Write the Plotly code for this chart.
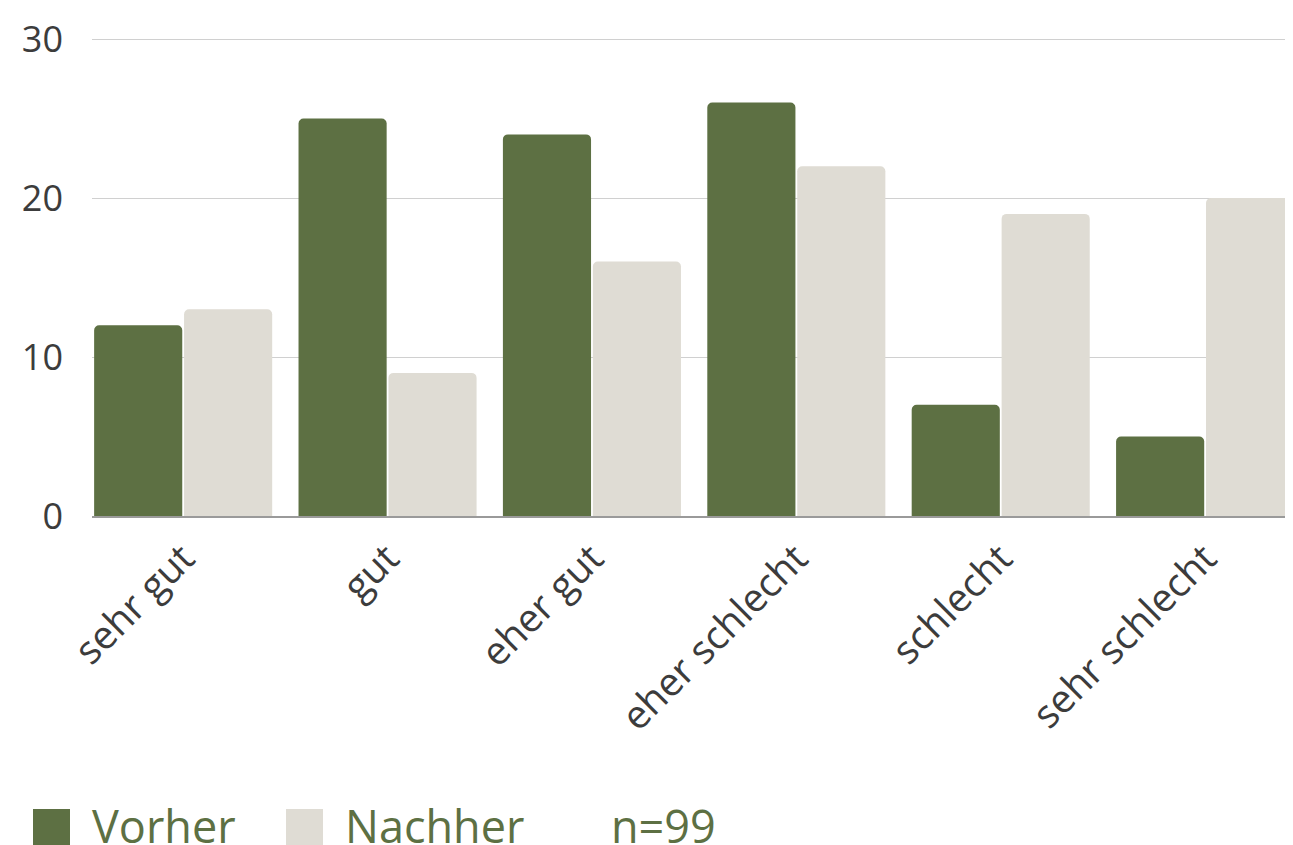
import plotly.graph_objects as go

categories = ["sehr gut", "gut", "eher gut", "eher schlecht", "schlecht", "sehr schlecht"]
vorher = [12, 25, 24, 26, 7, 5]
nachher = [13, 9, 16, 22, 19, 20]
series_names = ["Vorher", "Nachher"]
y_ticks = [0, 10, 20, 30]
note = "n=99"

GREEN = "#5D7043"
BEIGE = "#DFDCD4"
TEXT = "#3C3C3C"
FONT = "Open Sans"

# page renders figure offset by 8px (body margin); compensate
OFF = 8
W, H = 1293 - OFF, 845 - OFF
L, T = 92 - OFF, 37 - OFF
PW, PH = 1201, 479
B = H - T - PH
Y_TOP = 30 * PH / 477  # so that 30 lands 2px below plot top and the gridline shows

fig = go.Figure()
fig.add_trace(go.Bar(x=categories, y=vorher, name=series_names[0], marker_color=GREEN,
                     marker_line_width=0))
fig.add_trace(go.Bar(x=categories, y=nachher, name=series_names[1], marker_color=BEIGE,
                     marker_line_width=0))

fig.update_layout(
    width=W, height=H,
    margin=dict(l=L, r=0, t=T, b=B, pad=0),
    paper_bgcolor="white", plot_bgcolor="white",
    barmode="group", bargap=0.12, bargroupgap=0.02,
    barcornerradius=5,
    showlegend=False,
    font=dict(family=FONT, color=TEXT),
)
fig.update_yaxes(range=[0, Y_TOP], tickvals=y_ticks, showgrid=True, gridcolor="#D0D0D0",
                 gridwidth=1, zeroline=False, showline=False, ticks="",
                 tickfont=dict(size=36, color=TEXT, family=FONT), ticklabelstandoff=28)
fig.update_xaxes(range=[-0.446, 5.43], showline=True, linecolor="#9A9A9A", linewidth=1.5,
                 ticks="", tickangle=-45, ticklabelstandoff=2,
                 tickfont=dict(size=39, color=TEXT, family=FONT))


def px_x(x):
    return (x - OFF - L) / PW


def px_y(y):
    return (T + PH - (y - OFF)) / PH


# custom legend (page pixel positions)
legend_items = [(series_names[0], GREEN), (series_names[1], BEIGE)]
swatch_x = [33, 286]
shapes = []
for (name, col), x0 in zip(legend_items, swatch_x):
    shapes.append(dict(type="rect", xref="paper", yref="paper",
                       x0=px_x(x0), x1=px_x(x0 + 37),
                       y0=px_y(845), y1=px_y(809),
                       fillcolor=col, line_width=0))
fig.update_layout(shapes=shapes)
label_x = [90, 343, 609]
for txt, lx in zip([series_names[0], series_names[1], note], label_x):
    fig.add_annotation(text=txt, xref="paper", yref="paper",
                       x=px_x(lx), y=px_y(825),
                       xanchor="left", yanchor="middle", showarrow=False,
                       font=dict(size=45, color=GREEN, family=FONT))

fig.write_html("out.html")
